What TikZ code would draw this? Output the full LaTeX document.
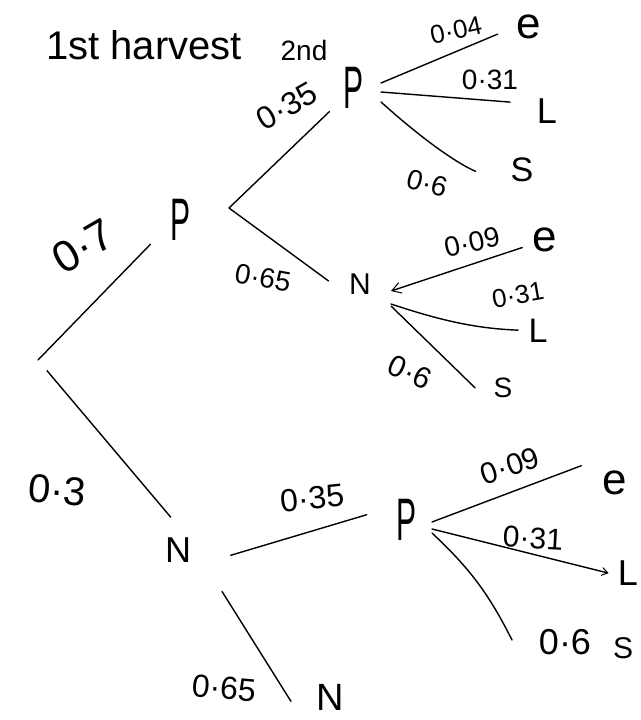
\documentclass[tikz,border=0pt]{standalone}
\usepackage{fontspec}
\setmainfont{Liberation Sans}
\usetikzlibrary{arrows.meta}
\newcommand{\fsz}[1]{\fontsize{#1}{#1}\selectfont}
\newcommand{\tallP}{\scalebox{0.5}[1]{P}}
\tikzset{
  txt/.style={inner sep=0pt, text=black},
  br/.style={line width=1.4pt, line cap=round, draw=black},
  arr/.style={-{Straight Barb[length=9pt,width=11pt,line width=1pt]}},
  arrs/.style={-{Straight Barb[length=6pt,width=8pt,line width=1pt]}}
}
\begin{document}
\begin{tikzpicture}[x=1pt,y=-1pt]
\path[use as bounding box, fill=white] (0,0) rectangle (640,720);

% headings
\node[txt, font=\fsz{40}] (title) at (144,45) {1st harvest};
\node[txt, font=\fsz{28}] (second) at (304,50) {2nd};

% tree nodes
\coordinate (root) at (38,360);
\node[txt, font=\fsz{60}] (P1) at (181,220) {\tallP};
\node[txt, font=\fsz{36}] (N1) at (178,550) {N};
\node[txt, font=\fsz{60}] (P2) at (354,88) {\tallP};
\node[txt, font=\fsz{30}] (N2) at (360,284) {N};
\node[txt, font=\fsz{60}] (P3) at (406,520) {\tallP};
\node[txt, font=\fsz{38}] (N3) at (330,697) {N};

% leaves
\node[txt, font=\fsz{44}] (e1) at (529,27) {e};
\node[txt, font=\fsz{36}] (L1) at (547,111) {L};
\node[txt, font=\fsz{34}] (S1) at (522,170) {S};
\node[txt, font=\fsz{44}] (e2) at (545,240) {e};
\node[txt, font=\fsz{34}] (L2) at (538,331) {L};
\node[txt, font=\fsz{28}] (S2) at (503,388) {S};
\node[txt, font=\fsz{44}] (e3) at (615,483) {e};
\node[txt, font=\fsz{36}] (L3) at (628,573) {L};
\node[txt, font=\fsz{30}] (S3) at (623,648) {S};

% fork points
\coordinate (j1) at (229,208);
\coordinate (j2) at (381,92);
\coordinate (j3) at (391,297);
\coordinate (j5) at (432,529);
\coordinate (s3end) at (512,640);

% connectors
\draw[br, shorten >=34pt] (root) -- ([xshift=-7pt]P1.center);
\draw[br, shorten <=14pt, shorten >=30pt] (root) -- ([xshift=12pt,yshift=10pt]N1.center);
\draw[br, shorten >=34pt] (j1) -- (P2.center);
\draw[br, shorten >=39pt] (j1) -- ([yshift=-20pt]N2.center);
\draw[br, shorten >=34pt] ([yshift=9pt]j2) -- ([yshift=6pt]e1.center);
\draw[br, shorten >=37pt] (j2) -- ([yshift=6pt]L1.center);
\draw[br, shorten >=50pt] ([yshift=-10pt]j2) to[bend right=10] ([yshift=-20pt]S1.center);
\draw[br, arr, shorten <=24pt] (e2.center) -- ([yshift=6pt]j3);
\draw[br, shorten >=20pt] ([yshift=-7pt]j3) to[bend right=8] (L2.center);
\draw[br, shorten >=39pt] ([yshift=-9pt]j3) -- ([yshift=-27pt]S2.center);
\draw[br, shorten <=55pt, shorten >=41pt] ([yshift=-21pt]N1.center) -- ([yshift=17pt]P3.center);
\draw[br, shorten <=49pt, shorten >=2pt] ([xshift=18pt]N1.center) -- ([xshift=-38pt,yshift=-6pt]N3.center);
\draw[br, shorten >=36pt] ([yshift=7pt]j5) -- ([yshift=30pt]e3.center);
\draw[br, arrs, shorten >=20pt] (j5) -- ([yshift=-5pt]L3.center);
\draw[br] ([yshift=-4pt]j5) to[bend left=10] (s3end);

% probability labels
\node[txt, font=\fsz{44}, rotate=30] (l07) at (83,246) {0·7};
\node[txt, font=\fsz{40}, rotate=-5] (l03) at (57,490) {0·3};
\node[txt, font=\fsz{32}, rotate=30] (l035a) at (287,106) {0·35};
\node[txt, font=\fsz{28}, rotate=-10] (l065a) at (263,278) {0·65};
\node[txt, font=\fsz{26}, rotate=12] (l004) at (456,30) {0·04};
\node[txt, font=\fsz{28}] (l031a) at (490,80) {0·31};
\node[txt, font=\fsz{28}, rotate=-15] (l06a) at (427,183) {0·6};
\node[txt, font=\fsz{28}, rotate=12] (l009a) at (472,242) {0·09};
\node[txt, font=\fsz{26}, rotate=10] (l031b) at (518,295) {0·31};
\node[txt, font=\fsz{30}, rotate=-25] (l06b) at (410,372) {0·6};
\node[txt, font=\fsz{32}, rotate=6] (l035b) at (312,498) {0·35};
\node[txt, font=\fsz{32}, rotate=-5] (l065b) at (224,688) {0·65};
\node[txt, font=\fsz{30}, rotate=18] (l009b) at (510,466) {0·09};
\node[txt, font=\fsz{30}, rotate=-3] (l031c) at (533,538) {0·31};
\node[txt, font=\fsz{36}] (l06c) at (565,642) {0·6};
\end{tikzpicture}
\end{document}
